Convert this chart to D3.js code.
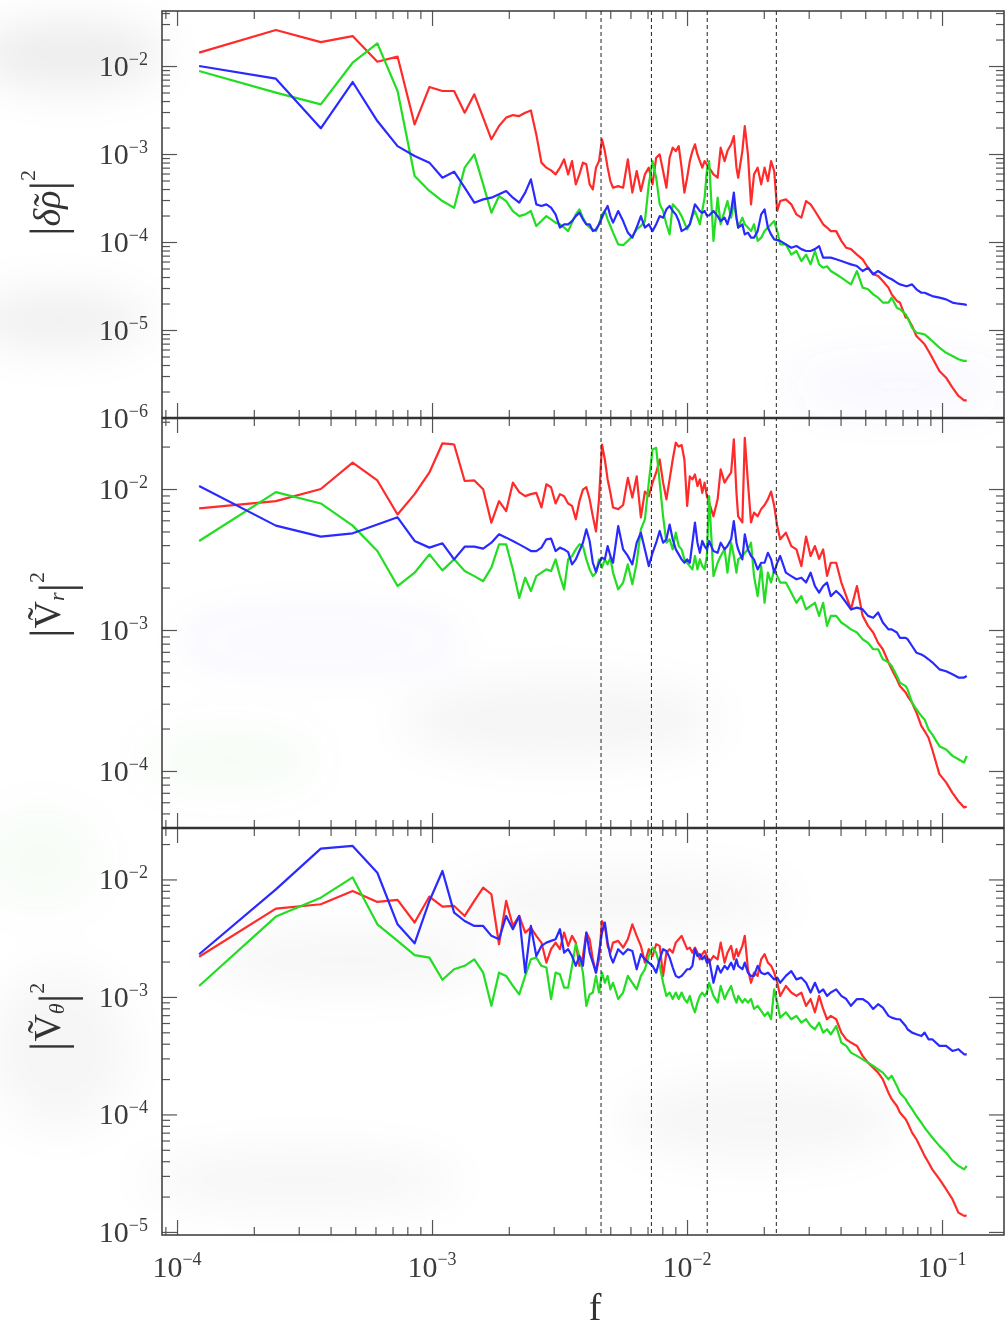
<!DOCTYPE html>
<html>
<head>
<meta charset="utf-8">
<script src="https://cdn.jsdelivr.net/npm/d3@7"></script>
<style>
  body { margin: 0; background: #fff; }
  svg { display: block; }
  .tick line { stroke: #555; stroke-width: 1.2; }
  .domain { display: none; }
</style>
</head>
<body>
<svg id="chart" width="1006" height="1329"></svg>
<script>
// Power spectra of density and velocity fluctuations, three runs (red, green, blue).
// Frequency bin indices; the bin width is 1/8192.
const binWidth = 1 / 8192;
const bins = [
  1,2,3,4,5,6,7,8,9,10,
  11,12,13,14,15,16,17,18,19,20,
  21,22,23,24,25,26,27,28,29,30,
  31,32,33,34,35,36,37,38,39,40,
  41,42,44,46,48,50,52,54,56,58,
  60,62,64,66,68,70,72,74,76,78,
  80,82,84,86,88,90,92,94,96,98,
  100,104,108,111,115,118,122,125,128,130,
  135,138,142,146,150,155,160,165,170,175,
  180,185,190,200,210,220,230,240,250,260,
  270,280,290,300,315,330,345,360,380,400,
  420,440,460,480,505,520,545,560,590,600,
  625,650,680,700,725,750,800,850,900,950,
  1000,1024
];

// |δρ|^2
const densityRed = [
  1.42e-2,2.57e-2,1.87e-2,2.19e-2,1.12e-2,1.28e-2,2.17e-3,5.77e-3,5.2e-3,5.2e-3,
  2.95e-3,4.77e-3,2.59e-3,1.47e-3,2.08e-3,2.59e-3,2.77e-3,2.7e-3,2.95e-3,3.13e-3,
  1.67e-3,7.98e-4,7.0e-4,6.52e-4,5.87e-4,7.0e-4,8.7e-4,5.87e-4,8.3e-4,4.52e-4,
  5.87e-4,7.98e-4,7.64e-4,4.52e-4,3.96e-4,7.0e-4,8.3e-4,1.47e-3,1.08e-3,7.0e-4,
  4.93e-4,4.14e-4,4.32e-4,4.14e-4,8.7e-4,3.64e-4,6.41e-4,3.8e-4,5.87e-4,7.0e-4,
  4.52e-4,9.08e-4,9.9e-4,6.41e-4,4.14e-4,9.08e-4,1.18e-3,1.08e-3,1.23e-3,7.0e-4,
  3.64e-4,5.38e-4,8.3e-4,1.08e-3,1.29e-3,9.9e-4,8.3e-4,7.0e-4,8.3e-4,7.64e-4,
  7.0e-4,5.87e-4,5.38e-4,1.18e-3,8.3e-4,1.08e-3,1.29e-3,1.6e-3,7.0e-4,5.38e-4,
  1.08e-3,2.08e-3,9.9e-4,2.68e-4,5.87e-4,7.0e-4,4.52e-4,7.0e-4,4.93e-4,8.3e-4,
  6.41e-4,2.25e-4,2.92e-4,3.05e-4,2.68e-4,2.06e-4,1.89e-4,2.92e-4,2.68e-4,2.25e-4,
  1.89e-4,1.59e-4,1.46e-4,1.33e-4,1.33e-4,1.03e-4,8.6e-5,8.3e-5,7.2e-5,6.36e-5,
  5.1e-5,4.3e-5,4.1e-5,3.6e-5,3.03e-5,2.54e-5,2.14e-5,2.05e-5,1.38e-5,1.38e-5,
  1.11e-5,8.55e-6,7.5e-6,6.87e-6,5.77e-6,4.85e-6,3.42e-6,2.87e-6,2.21e-6,1.78e-6,
  1.59e-6,1.59e-6
];
const densityGreen = [
  8.77e-3,4.98e-3,3.66e-3,1.09e-2,1.81e-2,5.2e-3,5.62e-4,3.8e-4,2.92e-4,2.45e-4,
  7.0e-4,9.9e-4,4.52e-4,2.15e-4,3.33e-4,2.92e-4,2.25e-4,1.97e-4,2.06e-4,2.25e-4,
  1.52e-4,1.73e-4,1.97e-4,1.81e-4,1.66e-4,1.59e-4,1.46e-4,1.33e-4,1.66e-4,2.06e-4,
  2.35e-4,1.89e-4,1.59e-4,1.46e-4,1.39e-4,1.33e-4,1.59e-4,2.06e-4,2.25e-4,1.81e-4,
  1.52e-4,1.28e-4,9.4e-5,9.2e-5,1.03e-4,1.17e-4,1.39e-4,1.52e-4,1.73e-4,4.52e-4,
  8.3e-4,5.38e-4,2.68e-4,2.25e-4,1.59e-4,1.22e-4,2.68e-4,2.46e-4,2.25e-4,1.97e-4,
  1.66e-4,1.39e-4,1.59e-4,1.97e-4,2.25e-4,1.89e-4,1.59e-4,2.25e-4,3.19e-4,6.41e-4,
  8.3e-4,1.03e-4,3.19e-4,1.59e-4,2.25e-4,2.92e-4,1.89e-4,2.8e-4,1.89e-4,1.46e-4,
  1.89e-4,1.59e-4,1.46e-4,1.33e-4,1.59e-4,1.03e-4,1.12e-4,1.33e-4,1.46e-4,1.59e-4,
  1.73e-4,1.33e-4,9.4e-5,9.4e-5,7.2e-5,7.9e-5,6.08e-5,7.2e-5,5.57e-5,7.9e-5,
  5.57e-5,5.1e-5,5.3e-5,4.68e-5,4.3e-5,3.93e-5,3.6e-5,3.3e-5,4.68e-5,3.03e-5,
  2.9e-5,2.54e-5,2.33e-5,2.05e-5,2.05e-5,2.33e-5,1.79e-5,1.72e-5,1.51e-5,1.38e-5,
  1.06e-5,9.3e-6,9.1e-6,8.9e-6,8.2e-6,7.5e-6,6.3e-6,5.5e-6,5.07e-6,4.65e-6,
  4.45e-6,4.45e-6
];
const densityBlue = [
  1.0e-2,7.18e-3,1.96e-3,6.58e-3,2.37e-3,1.23e-3,9.5e-4,7.98e-4,5.38e-4,6.3e-4,
  4.14e-4,2.8e-4,3.05e-4,3.19e-4,3.48e-4,3.8e-4,3.19e-4,2.8e-4,3.64e-4,5.15e-4,
  2.68e-4,2.57e-4,2.68e-4,2.46e-4,2.06e-4,1.46e-4,1.59e-4,1.59e-4,1.73e-4,1.97e-4,
  2.15e-4,1.81e-4,1.59e-4,1.59e-4,1.33e-4,1.39e-4,1.59e-4,1.89e-4,2.25e-4,2.57e-4,
  1.97e-4,1.66e-4,2.25e-4,1.73e-4,1.28e-4,1.12e-4,1.46e-4,1.97e-4,1.46e-4,1.59e-4,
  1.33e-4,1.59e-4,1.97e-4,1.89e-4,2.35e-4,2.57e-4,2.25e-4,2.06e-4,1.73e-4,1.33e-4,
  1.39e-4,1.46e-4,1.59e-4,2.06e-4,2.68e-4,2.46e-4,2.25e-4,2.15e-4,2.25e-4,2.0e-4,
  2.0e-4,2.25e-4,1.97e-4,1.73e-4,1.89e-4,1.59e-4,2.25e-4,3.64e-4,1.89e-4,1.46e-4,
  1.59e-4,1.22e-4,1.28e-4,1.12e-4,1.12e-4,1.33e-4,2.06e-4,2.35e-4,1.46e-4,1.22e-4,
  1.07e-4,1.05e-4,1.03e-4,9.4e-5,8.6e-5,9.0e-5,8.3e-5,7.9e-5,7.9e-5,8.3e-5,
  9.0e-5,6.64e-5,6.64e-5,6.64e-5,6.36e-5,6.08e-5,5.82e-5,5.57e-5,5.33e-5,4.68e-5,
  5.1e-5,4.3e-5,4.68e-5,4.3e-5,3.93e-5,3.77e-5,3.45e-5,3.3e-5,3.16e-5,3.16e-5,
  3.3e-5,2.9e-5,2.65e-5,2.65e-5,2.54e-5,2.43e-5,2.33e-5,2.23e-5,2.05e-5,1.99e-5,
  1.96e-5,1.92e-5
];

// |V_r|^2
const radialRed = [
  7.3e-3,8.2e-3,1.0e-2,1.54e-2,1.15e-2,6.6e-3,9.2e-3,1.31e-2,2.11e-2,2.07e-2,
  1.14e-2,1.15e-2,9.95e-3,5.77e-3,8.2e-3,6.98e-3,1.11e-2,9.5e-3,8.9e-3,9.2e-3,
  9.4e-3,7.4e-3,1.08e-2,1.03e-2,7.9e-3,9.2e-3,8.9e-3,7.9e-3,7.6e-3,6.1e-3,
  8.2e-3,9.9e-3,1.03e-2,8.45e-3,6.4e-3,5.0e-3,8.45e-3,2.07e-2,1.62e-2,1.17e-2,
  9.4e-3,7.4e-3,7.2e-3,7.7e-3,1.2e-2,8.7e-3,1.23e-2,6.3e-3,9.6e-3,8.9e-3,
  1.11e-2,1.31e-2,1.62e-2,1.11e-2,8.45e-3,1.17e-2,1.62e-2,2.13e-2,2.0e-2,2.05e-2,
  1.62e-2,7.6e-3,1.23e-2,1.17e-2,1.27e-2,1.05e-2,1.17e-2,9.4e-3,1.11e-2,8.9e-3,
  8.0e-3,6.4e-3,8.45e-3,1.38e-2,1.11e-2,1.2e-2,1.31e-2,2.25e-2,9.4e-3,6.4e-3,
  5.8e-3,2.31e-2,1.11e-2,5.8e-3,6.8e-3,6.4e-3,7.2e-3,7.7e-3,8.45e-3,9.6e-3,
  7.6e-3,5.46e-3,4.4e-3,4.9e-3,3.94e-3,3.73e-3,2.84e-3,4.6e-3,3.35e-3,3.94e-3,
  3.2e-3,3.73e-3,2.42e-3,3.0e-3,3.0e-3,2.17e-3,1.74e-3,1.4e-3,2.05e-3,1.26e-3,
  1.07e-3,9.6e-4,8.1e-4,7.3e-4,5.9e-4,5.26e-4,4.47e-4,4.0e-4,3.6e-4,3.4e-4,
  3.05e-4,2.6e-4,2.08e-4,1.92e-4,1.72e-4,1.42e-4,9.5e-5,8.3e-5,7.0e-5,6.1e-5,
  5.5e-5,5.6e-5
];
const radialGreen = [
  4.28e-3,9.5e-3,7.9e-3,5.5e-3,3.63e-3,2.05e-3,2.55e-3,3.44e-3,2.65e-3,3.17e-3,
  2.62e-3,2.41e-3,2.22e-3,2.77e-3,4.05e-3,4.05e-3,2.69e-3,1.69e-3,2.35e-3,1.89e-3,
  2.41e-3,2.55e-3,2.69e-3,2.62e-3,3.17e-3,2.41e-3,1.94e-3,3.17e-3,3.35e-3,3.73e-3,
  4.05e-3,3.94e-3,3.17e-3,2.69e-3,2.41e-3,2.55e-3,3.17e-3,2.77e-3,3.17e-3,2.92e-3,
  3.26e-3,2.55e-3,1.94e-3,2.17e-3,2.92e-3,2.11e-3,3.0e-3,5.18e-3,6.1e-3,1.11e-2,
  1.91e-2,1.96e-2,1.11e-2,6.4e-3,4.16e-3,4.4e-3,3.73e-3,4.9e-3,3.94e-3,3.73e-3,
  3.17e-3,3.0e-3,2.84e-3,2.69e-3,3.35e-3,2.69e-3,3.17e-3,2.84e-3,2.69e-3,3.35e-3,
  8.9e-3,2.41e-3,3.0e-3,3.35e-3,3.73e-3,2.55e-3,4.16e-3,3.35e-3,2.55e-3,3.17e-3,
  3.35e-3,3.53e-3,3.73e-3,4.16e-3,2.41e-3,1.74e-3,2.84e-3,1.56e-3,2.55e-3,2.17e-3,
  2.69e-3,2.41e-3,2.17e-3,2.17e-3,1.84e-3,1.56e-3,1.74e-3,1.40e-3,1.48e-3,1.56e-3,
  1.26e-3,1.56e-3,1.07e-3,1.26e-3,1.26e-3,1.13e-3,1.07e-3,1.01e-3,9.6e-4,8.6e-4,
  8.1e-4,7.3e-4,7.3e-4,6.2e-4,5.9e-4,5.56e-4,4.72e-4,4.23e-4,4.0e-4,3.8e-4,
  3.05e-4,2.74e-4,2.45e-4,2.32e-4,1.97e-4,1.82e-4,1.5e-4,1.42e-4,1.28e-4,1.21e-4,
  1.15e-4,1.28e-4
];
const radialBlue = [
  1.05e-2,5.5e-3,4.6e-3,4.85e-3,5.6e-3,6.3e-3,4.28e-3,3.84e-3,4.12e-3,3.17e-3,
  3.9e-3,3.9e-3,3.78e-3,4.16e-3,4.77e-3,4.52e-3,4.28e-3,4.05e-3,3.84e-3,3.63e-3,
  3.63e-3,3.84e-3,4.4e-3,4.45e-3,3.63e-3,3.84e-3,3.73e-3,3.57e-3,2.92e-3,3.17e-3,
  3.63e-3,4.16e-3,5.18e-3,4.28e-3,3.0e-3,2.58e-3,3.0e-3,3.26e-3,3.17e-3,3.94e-3,
  3.35e-3,3.0e-3,5.46e-3,3.73e-3,3.35e-3,2.92e-3,4.16e-3,4.9e-3,3.73e-3,2.84e-3,
  3.53e-3,4.16e-3,5.04e-3,4.16e-3,4.4e-3,5.6e-3,4.4e-3,3.73e-3,3.44e-3,3.17e-3,
  3.0e-3,3.17e-3,3.0e-3,4.16e-3,5.77e-3,4.16e-3,3.53e-3,4.28e-3,3.94e-3,3.73e-3,
  4.28e-3,3.63e-3,3.53e-3,4.16e-3,3.73e-3,3.94e-3,4.4e-3,5.93e-3,4.16e-3,3.73e-3,
  3.17e-3,4.77e-3,3.73e-3,3.35e-3,3.17e-3,2.69e-3,3.0e-3,3.0e-3,3.53e-3,3.17e-3,
  2.55e-3,3.0e-3,3.35e-3,2.55e-3,2.41e-3,2.29e-3,2.35e-3,2.17e-3,2.55e-3,2.05e-3,
  1.84e-3,2.05e-3,2.17e-3,1.74e-3,1.89e-3,1.74e-3,1.56e-3,1.40e-3,1.44e-3,1.40e-3,
  1.26e-3,1.22e-3,1.33e-3,1.13e-3,1.01e-3,1.01e-3,9.6e-4,8.8e-4,8.8e-4,8.6e-4,
  7.7e-4,6.9e-4,6.7e-4,6.5e-4,6.2e-4,5.9e-4,5.26e-4,5.1e-4,4.85e-4,4.6e-4,
  4.6e-4,4.72e-4
];

// |V_theta|^2
const thetaRed = [
  2.2e-3,5.65e-3,6.15e-3,7.98e-3,6.44e-3,6.7e-3,4.3e-3,7.15e-3,5.87e-3,5.95e-3,
  4.89e-3,6.56e-3,8.53e-3,7.48e-3,2.81e-3,6.56e-3,4.02e-3,4.89e-3,3.53e-3,3.89e-3,
  3.31e-3,2.9e-3,1.96e-3,2.55e-3,2.9e-3,2.55e-3,3.53e-3,2.72e-3,3.31e-3,2.9e-3,
  1.84e-3,2.23e-3,3.53e-3,3.1e-3,2.09e-3,1.61e-3,2.09e-3,4.43e-3,4.02e-3,2.72e-3,
  2.38e-3,2.9e-3,3.0e-3,2.63e-3,3.1e-3,4.15e-3,3.31e-3,2.72e-3,1.96e-3,2.55e-3,
  2.23e-3,2.81e-3,2.72e-3,1.51e-3,2.38e-3,2.55e-3,2.38e-3,2.9e-3,3.1e-3,3.31e-3,
  2.9e-3,2.55e-3,2.63e-3,2.38e-3,2.63e-3,2.38e-3,2.09e-3,2.31e-3,2.46e-3,2.23e-3,
  1.96e-3,2.23e-3,2.09e-3,2.9e-3,1.96e-3,2.38e-3,2.72e-3,2.09e-3,2.55e-3,2.23e-3,
  2.72e-3,3.31e-3,1.72e-3,1.32e-3,1.61e-3,1.51e-3,2.09e-3,2.31e-3,1.96e-3,1.84e-3,
  1.61e-3,1.32e-3,1.02e-3,1.24e-3,1.09e-3,1.02e-3,1.09e-3,8.4e-4,9.6e-4,7.4e-4,
  1.02e-3,7.9e-4,6.46e-4,6.9e-4,6.46e-4,4.97e-4,4.36e-4,4.09e-4,3.83e-4,3.15e-4,
  2.76e-4,2.5e-4,2.27e-4,1.99e-4,1.53e-4,1.35e-4,1.18e-4,1.04e-4,9.1e-5,8.5e-5,
  7.0e-5,6.15e-5,5.06e-5,4.44e-5,3.9e-5,3.41e-5,2.81e-5,2.31e-5,1.9e-5,1.46e-5,
  1.37e-5,1.38e-5
];
const thetaGreen = [
  1.24e-3,4.83e-3,7.0e-3,1.04e-2,4.15e-3,3.0e-3,2.27e-3,2.16e-3,1.4e-3,1.72e-3,
  1.84e-3,2.09e-3,1.61e-3,8.4e-4,1.61e-3,1.51e-3,1.24e-3,1.05e-3,1.51e-3,2.09e-3,
  2.16e-3,1.84e-3,1.78e-3,9.6e-4,1.61e-3,1.56e-3,1.2e-3,1.2e-3,1.84e-3,2.81e-3,
  2.23e-3,1.61e-3,8.4e-4,1.05e-3,1.09e-3,1.51e-3,1.09e-3,1.61e-3,1.32e-3,1.51e-3,
  1.16e-3,1.32e-3,9.6e-4,1.09e-3,1.51e-3,1.32e-3,1.16e-3,1.51e-3,1.72e-3,2.23e-3,
  2.63e-3,2.38e-3,1.84e-3,1.32e-3,1.02e-3,1.09e-3,9.6e-4,1.09e-3,9.6e-4,1.09e-3,
  9.6e-4,8.95e-4,1.02e-3,8.4e-4,7.4e-4,8.95e-4,1.02e-3,1.09e-3,1.02e-3,1.09e-3,
  1.32e-3,1.02e-3,8.95e-4,1.24e-3,9.6e-4,1.09e-3,1.24e-3,1.02e-3,8.95e-4,1.02e-3,
  8.95e-4,9.6e-4,8.95e-4,9.6e-4,7.9e-4,8.4e-4,7.6e-4,6.9e-4,7.4e-4,6.46e-4,
  1.16e-3,8.95e-4,6.67e-4,7.4e-4,6.46e-4,6.9e-4,6.04e-4,6.46e-4,5.66e-4,5.31e-4,
  6.04e-4,4.97e-4,5.31e-4,4.81e-4,5.66e-4,4.09e-4,3.83e-4,3.36e-4,3.15e-4,2.94e-4,
  2.76e-4,2.59e-4,2.42e-4,2.27e-4,1.99e-4,2.13e-4,1.75e-4,1.53e-4,1.35e-4,1.26e-4,
  1.11e-4,9.7e-5,8.5e-5,7.7e-5,7.0e-5,6.36e-5,5.4e-5,4.73e-5,4.02e-5,3.65e-5,
  3.41e-5,3.65e-5
];
const thetaBlue = [
  2.31e-3,8.24e-3,1.83e-2,1.93e-2,1.14e-2,4.15e-3,2.86e-3,6.56e-3,1.18e-2,5.22e-3,
  4.43e-3,4.02e-3,4.02e-3,3.31e-3,3.1e-3,4.89e-3,3.77e-3,4.89e-3,1.61e-3,4.02e-3,
  2.23e-3,2.72e-3,2.9e-3,3.0e-3,3.1e-3,3.77e-3,2.38e-3,2.55e-3,2.23e-3,1.84e-3,
  2.23e-3,1.84e-3,3.53e-3,2.38e-3,1.96e-3,1.61e-3,2.38e-3,3.53e-3,4.3e-3,2.9e-3,
  2.23e-3,1.96e-3,2.55e-3,2.31e-3,2.55e-3,2.46e-3,1.72e-3,2.31e-3,2.09e-3,1.96e-3,
  1.84e-3,1.61e-3,2.09e-3,2.55e-3,2.46e-3,2.16e-3,1.78e-3,1.51e-3,1.46e-3,1.51e-3,
  1.61e-3,1.72e-3,1.72e-3,1.84e-3,2.55e-3,2.23e-3,2.31e-3,2.09e-3,2.23e-3,1.96e-3,
  2.09e-3,1.32e-3,1.84e-3,1.61e-3,1.84e-3,1.72e-3,1.96e-3,1.72e-3,2.09e-3,1.84e-3,
  1.72e-3,1.96e-3,1.61e-3,1.51e-3,1.51e-3,1.84e-3,1.61e-3,1.56e-3,1.61e-3,1.51e-3,
  1.41e-3,1.46e-3,1.32e-3,1.51e-3,1.66e-3,1.41e-3,1.46e-3,1.32e-3,1.09e-3,1.32e-3,
  1.09e-3,1.16e-3,1.02e-3,1.09e-3,1.16e-3,1.02e-3,9.6e-4,8.4e-4,9.6e-4,9.6e-4,
  8.95e-4,7.9e-4,8.67e-4,8.1e-4,6.9e-4,6.67e-4,6.46e-4,6.46e-4,5.66e-4,5.31e-4,
  4.97e-4,4.81e-4,4.65e-4,4.97e-4,4.36e-4,4.36e-4,3.83e-4,3.83e-4,3.47e-4,3.59e-4,
  3.25e-4,3.25e-4
];

// Reference frequencies marked by dashed verticals
const markerFreqs = [4.6e-3, 7.25e-3, 1.2e-2, 2.24e-2];
// Decade labels
const xLabelExps = [-4, -3, -2, -1];
const topLabelExps = [-2, -3, -4, -5, -6];
const midLabelExps = [-2, -3, -4];
const botLabelExps = [-2, -3, -4, -5];

const colors = { red: "#ff2a2a", green: "#22dd22", blue: "#2a2aff" };
const FONT = "'Liberation Serif', 'DejaVu Serif', serif";

const frequency = bins.map(k => k * binWidth);

const svg = d3.select("#chart");
const LEFT = 162, RIGHT = 1004;
const x = d3.scaleLog().domain([8.73e-5, 0.175]).range([LEFT, RIGHT]);

// soft grey haze behind the figure
const defs = svg.append("defs");
defs.append("filter").attr("id", "haze").attr("x", "-50%").attr("y", "-50%")
  .attr("width", "200%").attr("height", "200%")
  .append("feGaussianBlur").attr("stdDeviation", 22);
const hazeSpots = [
  [70, 55, 95, 35, "#000", 0.07], [60, 320, 90, 30, "#000", 0.06],
  [900, 385, 110, 25, "#66f", 0.05], [320, 640, 140, 25, "#66f", 0.045],
  [560, 720, 160, 40, "#000", 0.04], [230, 760, 90, 30, "#3a3", 0.035],
  [620, 900, 170, 30, "#000", 0.035], [350, 960, 140, 30, "#000", 0.035],
  [760, 1120, 140, 40, "#000", 0.035], [300, 1180, 160, 30, "#000", 0.035],
  [60, 1050, 70, 80, "#000", 0.035], [40, 860, 60, 50, "#3a3", 0.03]
];
const hazeG = svg.append("g").attr("filter", "url(#haze)");
hazeSpots.forEach(([cx, cy, rx, ry, c, o]) => {
  hazeG.append("ellipse").attr("cx", cx).attr("cy", cy).attr("rx", rx).attr("ry", ry)
    .attr("fill", c).attr("opacity", o);
});

const panels = [
  { top: 11, bottom: 418, domain: [1e-6, 4.22e-2], labels: topLabelExps,
    series: [densityRed, densityGreen, densityBlue], title: "rho", titleY: 203 },
  { top: 418, bottom: 828, domain: [3.94e-5, 3.19e-2], labels: midLabelExps,
    series: [radialRed, radialGreen, radialBlue], title: "r", titleY: 605 },
  { top: 828, bottom: 1235, domain: [9.42e-6, 2.74e-2], labels: botLabelExps,
    series: [thetaRed, thetaGreen, thetaBlue], title: "theta", titleY: 1017 }
];

function logTicks(domain) {
  const [a, b] = domain;
  const minor = [], major = [];
  for (let e = Math.floor(Math.log10(a)); e <= Math.ceil(Math.log10(b)); e++) {
    for (let m = 1; m < 10; m++) {
      const v = m * Math.pow(10, e);
      if (v >= a * 0.9999 && v <= b * 1.0001) (m === 1 ? major : minor).push(v);
    }
  }
  return { minor, major };
}

const xt = logTicks(x.domain());
const seriesColors = [colors.red, colors.green, colors.blue];

panels.forEach((p, i) => {
  const y = d3.scaleLog().domain(p.domain).range([p.bottom, p.top]);
  const g = svg.append("g");
  const clipId = "clip" + i;
  defs.append("clipPath").attr("id", clipId).append("rect")
    .attr("x", LEFT).attr("y", p.top).attr("width", RIGHT - LEFT).attr("height", p.bottom - p.top);

  // spectra
  const line = d3.line().x((d, j) => x(frequency[j])).y(d => y(d));
  const lines = g.append("g").attr("clip-path", `url(#${clipId})`);
  p.series.forEach((s, j) => {
    lines.append("path").datum(s)
      .attr("d", line)
      .attr("fill", "none")
      .attr("stroke", seriesColors[j])
      .attr("stroke-width", 2.2)
      .attr("stroke-linejoin", "round");
  });

  // ticks on all four sides, pointing inward
  const yt = logTicks(p.domain);
  const axisSets = [
    [d3.axisBottom(x), `translate(0,${p.bottom})`, xt],
    [d3.axisTop(x), `translate(0,${p.top})`, xt],
    [d3.axisLeft(y), `translate(${LEFT},0)`, yt],
    [d3.axisRight(y), `translate(${RIGHT},0)`, yt]
  ];
  axisSets.forEach(([ax, tr, t]) => {
    g.append("g").attr("transform", tr)
      .call(ax.tickValues(t.minor).tickSizeInner(-8).tickSizeOuter(0).tickFormat(""));
    g.append("g").attr("transform", tr)
      .call(ax.tickValues(t.major).tickSizeInner(-15).tickSizeOuter(0).tickFormat(""));
  });

  // frame
  g.append("rect").attr("x", LEFT).attr("y", p.top)
    .attr("width", RIGHT - LEFT).attr("height", p.bottom - p.top)
    .attr("fill", "none").attr("stroke", "#444").attr("stroke-width", 1.6);

  // y labels
  p.labels.forEach(e => {
    const t = g.append("text").attr("x", 148).attr("y", y(Math.pow(10, e)) + 10)
      .attr("text-anchor", "end").attr("font-family", FONT)
      .attr("font-size", 30).attr("fill", "#3a3a3a");
    t.append("tspan").text("10");
    t.append("tspan").attr("dy", -11).attr("font-size", 18).text("\u2212" + Math.abs(e));
  });

  // y title
  const tg = svg.append("g").attr("transform", `translate(47,${p.titleY}) rotate(-90)`);
  const tt = tg.append("text").attr("text-anchor", "middle").attr("dominant-baseline", "central")
    .attr("font-family", FONT).attr("fill", "#333").attr("font-size", 38);
  tt.append("tspan").attr("font-size", 48).text("|");
  if (p.title === "rho") {
    tt.append("tspan").attr("font-style", "italic").text("\u03b4\u0303\u03c1");
  } else {
    tt.append("tspan").text("V\u0303");
    tt.append("tspan").attr("font-style", "italic").attr("font-size", 22).attr("dy", 9)
      .text(p.title === "r" ? "r" : "\u03b8");
    tt.append("tspan").attr("dy", -9).text("");
  }
  tt.append("tspan").attr("font-size", 48).text("|");
  tt.append("tspan").attr("font-size", 22).attr("dy", -20).text("2");
});

// separators between the panels
[418, 828].forEach(yy => {
  svg.append("line").attr("x1", LEFT).attr("x2", RIGHT).attr("y1", yy).attr("y2", yy)
    .attr("stroke", "#333").attr("stroke-width", 2.6);
});

// dashed reference frequencies
svg.append("g").selectAll("line").data(markerFreqs).join("line")
  .attr("x1", d => x(d)).attr("x2", d => x(d))
  .attr("y1", 11).attr("y2", 1235)
  .attr("stroke", "#222").attr("stroke-width", 1)
  .attr("stroke-dasharray", "4,3");

// x labels
xLabelExps.forEach(e => {
  const t = svg.append("text").attr("x", x(Math.pow(10, e))).attr("y", 1277)
    .attr("text-anchor", "middle").attr("font-family", FONT)
    .attr("font-size", 30).attr("fill", "#3a3a3a");
  t.append("tspan").text("10");
  t.append("tspan").attr("dy", -12).attr("font-size", 18).text("\u2212" + Math.abs(e));
});
svg.append("text").attr("x", 595).attr("y", 1320).attr("text-anchor", "middle")
  .attr("font-family", FONT).attr("font-size", 38).attr("fill", "#333").text("f");
</script>
</body>
</html>
